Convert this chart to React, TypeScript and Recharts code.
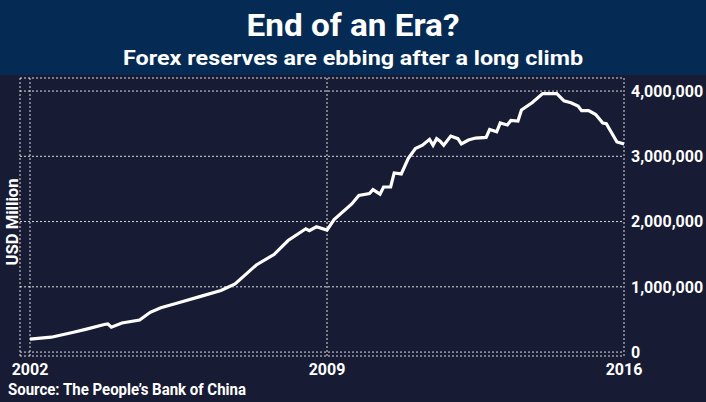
import React from "react";
import { LineChart, Line, XAxis, YAxis, CartesianGrid } from "recharts";

// China forex reserves, USD million
const months = [
  "2002-01", "2002-07", "2003-01", "2003-05", "2003-10", "2003-11", "2003-12",
  "2004-03", "2004-08", "2004-11", "2005-02", "2005-07", "2006-01", "2006-07",
  "2006-11", "2007-05", "2007-10", "2008-02", "2008-07", "2008-08", "2008-10",
  "2009-01", "2009-03", "2009-08", "2009-10", "2010-01", "2010-02", "2010-04",
  "2010-05", "2010-07", "2010-08", "2010-10", "2010-12", "2011-02", "2011-04",
  "2011-06", "2011-07", "2011-08", "2011-09", "2011-10", "2011-12", "2012-02",
  "2012-03", "2012-05", "2012-07", "2012-10", "2012-11", "2013-01", "2013-02",
  "2013-04", "2013-05", "2013-07", "2013-08", "2013-11", "2014-02", "2014-06",
  "2014-08", "2014-10", "2014-12", "2015-01", "2015-03", "2015-05", "2015-07",
  "2015-08", "2015-11", "2016-01",
];

const reserves = [
  200000, 228000, 300000, 352000, 422000, 432000, 382000,
  445000, 492000, 610000, 680000, 755000, 850000, 945000,
  1045000, 1335000, 1495000, 1710000, 1890000, 1860000, 1920000,
  1870000, 2030000, 2270000, 2400000, 2430000, 2490000, 2420000,
  2530000, 2530000, 2745000, 2730000, 2970000, 3120000, 3170000,
  3260000, 3170000, 3270000, 3230000, 3170000, 3310000, 3270000,
  3190000, 3250000, 3280000, 3290000, 3410000, 3375000, 3510000,
  3480000, 3550000, 3540000, 3710000, 3820000, 3960000, 3960000,
  3850000, 3820000, 3770000, 3700000, 3700000, 3640000, 3510000,
  3500000, 3220000, 3190000,
];

const yearTicks = [2002, 2009, 2016];
const valueTicks = [0, 1000000, 2000000, 3000000, 4000000];

const data = months.map((m, i) => {
  const [y, mo] = m.split("-").map(Number);
  return { t: y + (mo - 1) / 12, v: reserves[i] };
});

const FONT = "Roboto, 'DejaVu Sans', sans-serif";
const tickStyle = { fill: "#ffffff", fontSize: 16, fontWeight: 700, fontFamily: FONT };

export default function App() {
  return (
    <div style={{ position: "absolute", left: 0, top: 0, width: 706, height: 402, background: "#171b33", overflow: "hidden" }}>
      <div style={{ position: "absolute", left: 0, top: 0, width: 706, height: 75, background: "#052b54" }} />
      <div style={{ position: "absolute", left: 0, top: 0 }}>
        <LineChart width={706} height={402} data={data} margin={{ top: 78, right: 0, bottom: 16, left: 20 }}>
          <CartesianGrid stroke="#ffffff" strokeOpacity={0.85} strokeDasharray="2 2" strokeWidth={1} />
          <XAxis
            dataKey="t"
            type="number"
            domain={[2001.764, 2016]}
            ticks={yearTicks}
            interval={0}
            height={30}
            axisLine={false}
            tickLine={false}
            tickSize={6}
            tickMargin={2}
            tick={tickStyle}
            allowDataOverflow
          />
          <YAxis
            orientation="right"
            domain={[-60000, 4200000]}
            ticks={valueTicks}
            interval={0}
            width={82}
            axisLine={false}
            tickLine={false}
            tickSize={6}
            tickMargin={1}
            tick={tickStyle}
            tickFormatter={(v: number) => v.toLocaleString("en-US")}
            allowDataOverflow
          />
          <Line type="linear" dataKey="v" stroke="#ffffff" strokeWidth={3.2} dot={false} isAnimationActive={false} />
        </LineChart>
      </div>
      <svg width={706} height={402} style={{ position: "absolute", left: 0, top: 0, pointerEvents: "none" }}>
        <g fill="#ffffff" fontFamily={FONT} fontWeight={700}>
          <text x={353} y={36} fontSize={31} textAnchor="middle" textLength={213} lengthAdjust="spacingAndGlyphs">End of an Era?</text>
          <text x={353} y={65} fontSize={21} textAnchor="middle" textLength={460} lengthAdjust="spacingAndGlyphs">Forex reserves are ebbing after a long climb</text>
          <text x={0} y={0} fontSize={16} textAnchor="middle" textLength={87} lengthAdjust="spacingAndGlyphs" transform="translate(18 222) rotate(-90)">USD Million</text>
          <text x={8} y={395} fontSize={17} textLength={238} lengthAdjust="spacingAndGlyphs">Source: The People’s Bank of China</text>
        </g>
      </svg>
    </div>
  );
}
